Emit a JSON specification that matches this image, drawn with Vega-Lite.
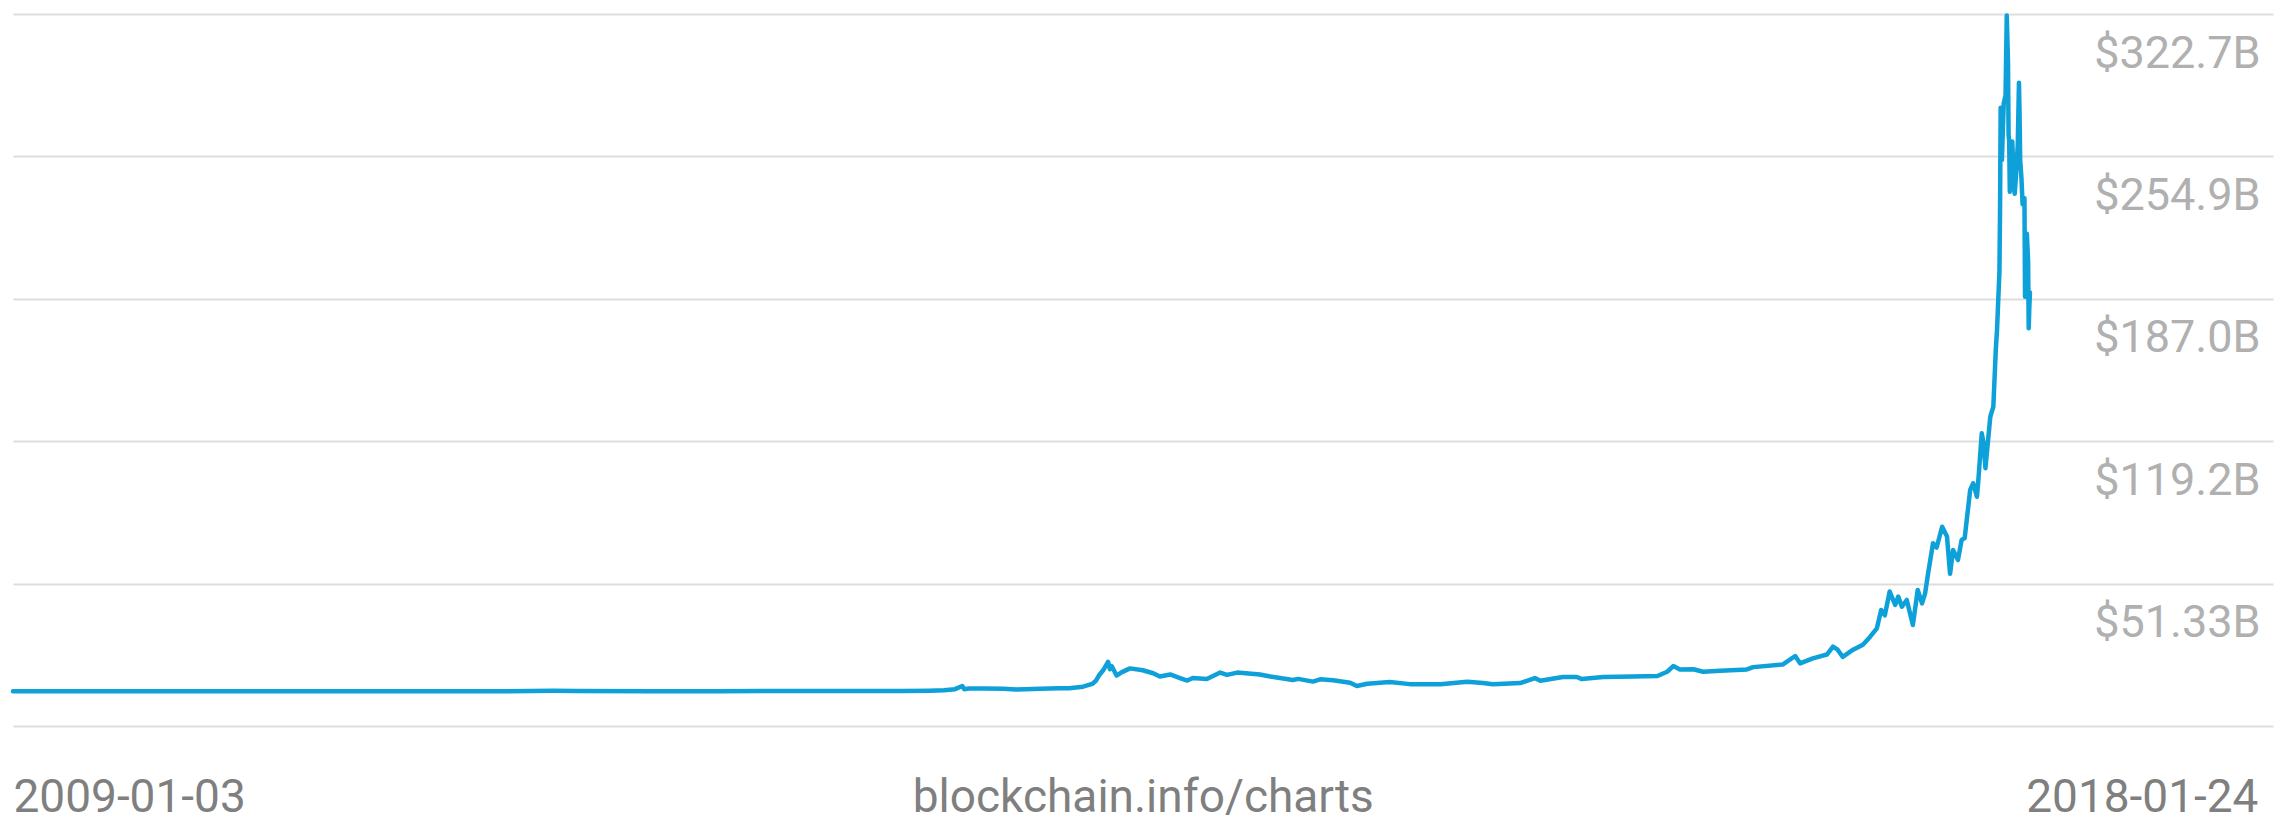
{
  "$schema": "https://vega.github.io/schema/vega-lite/v6.json",
  "width": 2260,
  "height": 712,
  "autosize": {"type": "none"},
  "padding": {"left": 13, "top": 14, "right": 4, "bottom": 98},
  "background": "#ffffff",
  "config": {"view": {"stroke": null}, "font": "Roboto"},
  "data": {"values": [
    {"date": "2009-01-03", "cap": 0},
    {"date": "2010-01-01", "cap": 0},
    {"date": "2010-07-17", "cap": 0.0003},
    {"date": "2011-01-01", "cap": 0.0016},
    {"date": "2011-03-01", "cap": 0.005},
    {"date": "2011-06-08", "cap": 0.19},
    {"date": "2011-07-15", "cap": 0.1},
    {"date": "2011-11-18", "cap": 0.02},
    {"date": "2012-03-01", "cap": 0.05},
    {"date": "2012-08-17", "cap": 0.14},
    {"date": "2012-11-15", "cap": 0.12},
    {"date": "2013-01-03", "cap": 0.14},
    {"date": "2013-02-15", "cap": 0.3},
    {"date": "2013-03-10", "cap": 0.5},
    {"date": "2013-03-28", "cap": 1.0},
    {"date": "2013-04-09", "cap": 2.5},
    {"date": "2013-04-12", "cap": 1.0},
    {"date": "2013-04-20", "cap": 1.3},
    {"date": "2013-05-15", "cap": 1.3},
    {"date": "2013-06-15", "cap": 1.2},
    {"date": "2013-07-07", "cap": 0.8},
    {"date": "2013-08-15", "cap": 1.2},
    {"date": "2013-09-15", "cap": 1.4},
    {"date": "2013-10-01", "cap": 1.4},
    {"date": "2013-10-24", "cap": 2.2},
    {"date": "2013-11-08", "cap": 3.5},
    {"date": "2013-11-14", "cap": 5.0},
    {"date": "2013-11-19", "cap": 7.5},
    {"date": "2013-11-26", "cap": 10.0},
    {"date": "2013-12-04", "cap": 14.0},
    {"date": "2013-12-07", "cap": 10.5},
    {"date": "2013-12-10", "cap": 12.0},
    {"date": "2013-12-18", "cap": 7.5},
    {"date": "2013-12-26", "cap": 9.0},
    {"date": "2014-01-09", "cap": 10.9},
    {"date": "2014-01-30", "cap": 10.0},
    {"date": "2014-02-16", "cap": 8.6},
    {"date": "2014-02-27", "cap": 7.0},
    {"date": "2014-03-16", "cap": 8.0},
    {"date": "2014-04-01", "cap": 6.3},
    {"date": "2014-04-13", "cap": 5.1},
    {"date": "2014-04-22", "cap": 6.3},
    {"date": "2014-05-15", "cap": 5.8},
    {"date": "2014-06-06", "cap": 8.9},
    {"date": "2014-06-17", "cap": 7.8},
    {"date": "2014-07-04", "cap": 8.9},
    {"date": "2014-08-10", "cap": 8.0},
    {"date": "2014-08-27", "cap": 7.0},
    {"date": "2014-10-03", "cap": 5.4},
    {"date": "2014-10-12", "cap": 5.9},
    {"date": "2014-11-05", "cap": 4.6},
    {"date": "2014-11-17", "cap": 5.7},
    {"date": "2014-12-08", "cap": 5.2},
    {"date": "2015-01-05", "cap": 4.1},
    {"date": "2015-01-16", "cap": 2.5},
    {"date": "2015-02-02", "cap": 3.6},
    {"date": "2015-03-11", "cap": 4.4},
    {"date": "2015-04-13", "cap": 3.4},
    {"date": "2015-06-02", "cap": 3.3},
    {"date": "2015-07-16", "cap": 4.5},
    {"date": "2015-08-11", "cap": 3.9},
    {"date": "2015-08-27", "cap": 3.3},
    {"date": "2015-10-11", "cap": 3.9},
    {"date": "2015-11-04", "cap": 6.3},
    {"date": "2015-11-13", "cap": 5.0},
    {"date": "2015-12-20", "cap": 6.8},
    {"date": "2016-01-12", "cap": 6.8},
    {"date": "2016-01-20", "cap": 5.8},
    {"date": "2016-02-24", "cap": 6.8},
    {"date": "2016-04-13", "cap": 7.0},
    {"date": "2016-05-23", "cap": 7.3},
    {"date": "2016-06-08", "cap": 9.3},
    {"date": "2016-06-18", "cap": 12.0},
    {"date": "2016-06-29", "cap": 10.4},
    {"date": "2016-07-21", "cap": 10.5},
    {"date": "2016-08-06", "cap": 9.3},
    {"date": "2016-09-03", "cap": 9.8},
    {"date": "2016-10-17", "cap": 10.4},
    {"date": "2016-10-27", "cap": 11.5},
    {"date": "2016-12-15", "cap": 12.8},
    {"date": "2017-01-04", "cap": 16.8},
    {"date": "2017-01-12", "cap": 13.3},
    {"date": "2017-02-02", "cap": 15.7},
    {"date": "2017-02-25", "cap": 17.5},
    {"date": "2017-03-07", "cap": 21.3},
    {"date": "2017-03-14", "cap": 20.0},
    {"date": "2017-03-23", "cap": 16.4},
    {"date": "2017-04-09", "cap": 19.8},
    {"date": "2017-04-25", "cap": 22.2},
    {"date": "2017-05-07", "cap": 26.0},
    {"date": "2017-05-18", "cap": 30.0},
    {"date": "2017-05-25", "cap": 38.7},
    {"date": "2017-05-31", "cap": 36.2},
    {"date": "2017-06-08", "cap": 47.5},
    {"date": "2017-06-17", "cap": 41.1},
    {"date": "2017-06-22", "cap": 45.1},
    {"date": "2017-06-28", "cap": 40.3},
    {"date": "2017-07-06", "cap": 43.5},
    {"date": "2017-07-16", "cap": 31.6},
    {"date": "2017-07-24", "cap": 48.3},
    {"date": "2017-07-31", "cap": 41.9},
    {"date": "2017-08-05", "cap": 46.5},
    {"date": "2017-08-10", "cap": 56.2},
    {"date": "2017-08-18", "cap": 70.5},
    {"date": "2017-08-24", "cap": 68.5},
    {"date": "2017-09-02", "cap": 78.4},
    {"date": "2017-09-10", "cap": 73.7},
    {"date": "2017-09-15", "cap": 56.0},
    {"date": "2017-09-20", "cap": 67.3},
    {"date": "2017-09-28", "cap": 62.6},
    {"date": "2017-10-04", "cap": 72.1},
    {"date": "2017-10-09", "cap": 73.0},
    {"date": "2017-10-18", "cap": 95.9},
    {"date": "2017-10-23", "cap": 99.1},
    {"date": "2017-10-29", "cap": 92.7},
    {"date": "2017-10-31", "cap": 99.0},
    {"date": "2017-11-06", "cap": 122.9},
    {"date": "2017-11-09", "cap": 118.2},
    {"date": "2017-11-12", "cap": 106.3},
    {"date": "2017-11-20", "cap": 130.8},
    {"date": "2017-11-25", "cap": 135.6},
    {"date": "2017-11-29", "cap": 162.6},
    {"date": "2017-12-01", "cap": 172},
    {"date": "2017-12-05", "cap": 200},
    {"date": "2017-12-06", "cap": 230},
    {"date": "2017-12-07", "cap": 278},
    {"date": "2017-12-08", "cap": 268},
    {"date": "2017-12-09", "cap": 253},
    {"date": "2017-12-10", "cap": 262},
    {"date": "2017-12-12", "cap": 280},
    {"date": "2017-12-15", "cap": 284},
    {"date": "2017-12-17", "cap": 322},
    {"date": "2017-12-19", "cap": 300},
    {"date": "2017-12-20", "cap": 265},
    {"date": "2017-12-21", "cap": 262},
    {"date": "2017-12-22", "cap": 238},
    {"date": "2017-12-23", "cap": 255},
    {"date": "2017-12-24", "cap": 240},
    {"date": "2017-12-26", "cap": 262},
    {"date": "2017-12-27", "cap": 255},
    {"date": "2017-12-29", "cap": 240},
    {"date": "2017-12-30", "cap": 237},
    {"date": "2018-01-01", "cap": 245},
    {"date": "2018-01-04", "cap": 260},
    {"date": "2018-01-06", "cap": 290},
    {"date": "2018-01-07", "cap": 275},
    {"date": "2018-01-08", "cap": 253},
    {"date": "2018-01-10", "cap": 245},
    {"date": "2018-01-12", "cap": 232},
    {"date": "2018-01-15", "cap": 235},
    {"date": "2018-01-16", "cap": 188},
    {"date": "2018-01-17", "cap": 190},
    {"date": "2018-01-19", "cap": 218},
    {"date": "2018-01-21", "cap": 205},
    {"date": "2018-01-22", "cap": 173},
    {"date": "2018-01-23", "cap": 183},
    {"date": "2018-01-24", "cap": 190}
  ]},
  "mark": {"type": "line", "color": "#0ea0d8", "strokeWidth": 4.5, "strokeJoin": "round", "strokeCap": "round"},
  "encoding": {
    "x": {
      "field": "date",
      "type": "temporal",
      "scale": {"domain": [{"year": 2009, "month": 1, "date": 3}, {"year": 2019, "month": 2, "date": 26, "hours": 16}], "nice": false},
      "axis": {
        "title": null,
        "domain": false,
        "ticks": false,
        "tickSize": 0,
        "grid": false,
        "values": [
          {"year": 2009, "month": 1, "date": 3},
          {"year": 2014, "month": 1, "date": 30},
          {"year": 2019, "month": 2, "date": 2}
        ],
        "labelExpr": "datum.value < time(datetime(2010, 0, 1)) ? '2009-01-03' : (datum.value > time(datetime(2018, 6, 1)) ? '2018-01-24' : 'blockchain.info/charts')",
        "labelFlush": 20,
        "labelOverlap": false,
        "labelLimit": 0,
        "labelBaseline": "alphabetic",
        "labelPadding": 85,
        "labelFont": "Roboto",
        "labelFontSize": 46,
        "labelColor": "#7f7f7f"
      }
    },
    "y": {
      "field": "cap",
      "type": "quantitative",
      "scale": {"domain": [-16.55, 322.7], "nice": false, "zero": false},
      "axis": {
        "title": null,
        "orient": "right",
        "domain": false,
        "ticks": false,
        "tickSize": 0,
        "grid": true,
        "gridColor": "#dddddd",
        "gridWidth": 2,
        "values": [-16.55, 51.33, 119.2, 187.0, 254.9, 322.7],
        "labelExpr": "datum.value < 0 ? '' : (datum.value < 100 ? '$' + format(datum.value, '.2f') + 'B' : '$' + format(datum.value, '.1f') + 'B')",
        "labelAlign": "right",
        "labelBaseline": "alphabetic",
        "labelPadding": -13,
        "labelOffset": 53,
        "labelFlush": false,
        "labelOverlap": false,
        "labelBound": false,
        "labelLimit": 0,
        "labelFont": "Roboto",
        "labelFontSize": 45,
        "labelColor": "#b0b0b0"
      }
    }
  }
}
